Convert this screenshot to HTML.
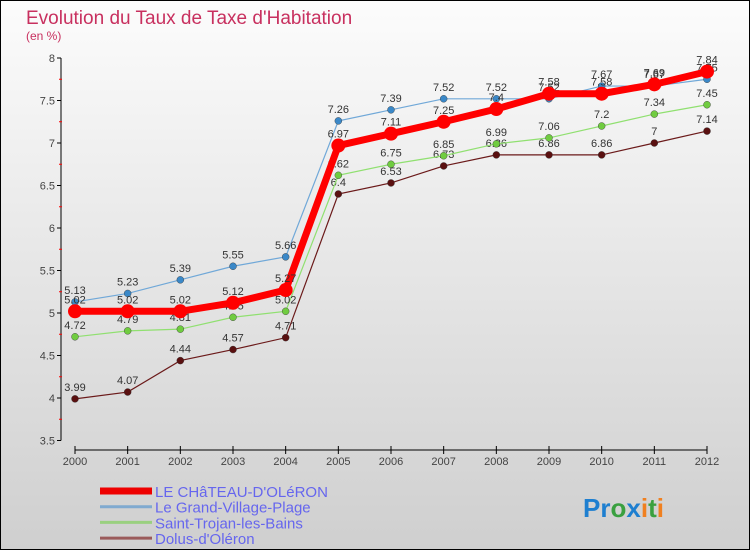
<!DOCTYPE html>
<html><head><meta charset="utf-8"><style>
body{margin:0;}
svg{display:block;font-family:"Liberation Sans",sans-serif;}
</style></head><body>
<svg id="c" width="750" height="550" xmlns="http://www.w3.org/2000/svg">
<defs><linearGradient id="bg" x1="0" y1="0" x2="0" y2="1"><stop offset="0" stop-color="#fcfcfc"/><stop offset="1" stop-color="#cfcfcf"/></linearGradient></defs>
<rect x="0.5" y="0.5" width="749" height="549" fill="url(#bg)" stroke="#000"/>
<text x="26" y="24" font-size="19" fill="#c8305f">Evolution du Taux de Taxe d'Habitation</text>
<text x="26" y="40" font-size="12" fill="#c8305f">(en %)</text>
<g id="axes"></g><g id="series"></g><g id="legend"></g>
<text x="583" y="517" font-size="26" font-weight="bold"><tspan fill="#1e7fd0">Pr</tspan><tspan fill="#3aa040">o</tspan><tspan fill="#1e7fd0">x</tspan><tspan fill="#f08020">i</tspan><tspan fill="#3aa040">t</tspan><tspan fill="#f08020">i</tspan></text>
</svg>
<script>
const years=[2000,2001,2002,2003,2004,2005,2006,2007,2008,2009,2010,2011,2012];
const yTicks=[3.5,4,4.5,5,5.5,6,6.5,7,7.5,8];
const chateau=[5.02,5.02,5.02,5.12,5.27,6.97,7.11,7.25,7.4,7.58,7.58,7.69,7.84];
const grandVillage=[5.13,5.23,5.39,5.55,5.66,7.26,7.39,7.52,7.52,7.52,7.67,7.67,7.75];
const saintTrojan=[4.72,4.79,4.81,4.95,5.02,6.62,6.75,6.85,6.99,7.06,7.2,7.34,7.45];
const dolus=[3.99,4.07,4.44,4.57,4.71,6.4,6.53,6.73,6.86,6.86,6.86,7,7.14];
const names=["LE CHâTEAU-D'OLéRON","Le Grand-Village-Plage","Saint-Trojan-les-Bains","Dolus-d'Oléron"];
const NS="http://www.w3.org/2000/svg";
const X=i=>75+i*(707-75)/(years.length-1);
const Y=v=>313-(v-5)*85;
function mk(p,t,a){const e=document.createElementNS(NS,t);for(const k in a)e.setAttribute(k,a[k]);p.appendChild(e);return e;}
const ax=document.getElementById('axes');
let l=mk(ax,'line',{x1:61,y1:Y(8),x2:61,y2:Y(3.5),stroke:'#000'});

l=mk(ax,'line',{x1:75,y1:450,x2:707,y2:450,stroke:'#000'});

yTicks.forEach(v=>{mk(ax,'line',{x1:57,y1:Y(v),x2:61,y2:Y(v),stroke:'#000'});
 if(v<8)mk(ax,'line',{x1:59,y1:Y(v+0.25),x2:62,y2:Y(v+0.25),stroke:'#f00'});
 const t=mk(ax,'text',{x:55,y:Y(v)+4,'font-size':11,fill:'#444','text-anchor':'end'});t.textContent=v;
 });
years.forEach((y,i)=>{mk(ax,'line',{x1:X(i),y1:446,x2:X(i),y2:454,stroke:'#000'});
 const t=mk(ax,'text',{x:X(i),y:465,'font-size':11,fill:'#444','text-anchor':'middle'});t.textContent=y;
 });
const sg=document.getElementById('series');
const defs=[[dolus,'#6b1a1a','#5a1010',1.2,3.5,3],[saintTrojan,'#90e070','#70cc40',1.2,3.5,2],[grandVillage,'#70a8d8','#3a88c8',1.2,3.5,1],[chateau,'#f00','#f00',7,7,0]];
defs.forEach(([d,c,pc,w,r,k])=>{
 const g=mk(sg,'g',{});
 const p=mk(g,'polyline',{points:d.map((v,i)=>X(i)+','+Y(v)).join(' '),fill:'none',stroke:c,'stroke-width':w});
 
 d.forEach((v,i)=>{const ci=mk(g,'circle',{cx:X(i),cy:Y(v),r:r,fill:pc,stroke:k==0?'none':'#333','stroke-width':0.4});
  
  const t=mk(g,'text',{x:X(i),y:Y(v)-8,'font-size':11,fill:'#333','text-anchor':'middle'});t.textContent=v;
  });
});
const lg=document.getElementById('legend');
const lc=['#e00','#80aad0','#9ad080','#9a5a5a'];const lw=[7,3,3,3];
names.forEach((n,i)=>{const y=491+i*15.7;
 const g=mk(lg,'g',{});
 mk(g,'line',{x1:100,y1:y,x2:152,y2:y,stroke:lc[i],'stroke-width':lw[i]});
 const t=mk(g,'text',{x:155,y:y+6,'font-size':15,fill:'#6666ee'});t.textContent=n;});
</script>
</body></html>
